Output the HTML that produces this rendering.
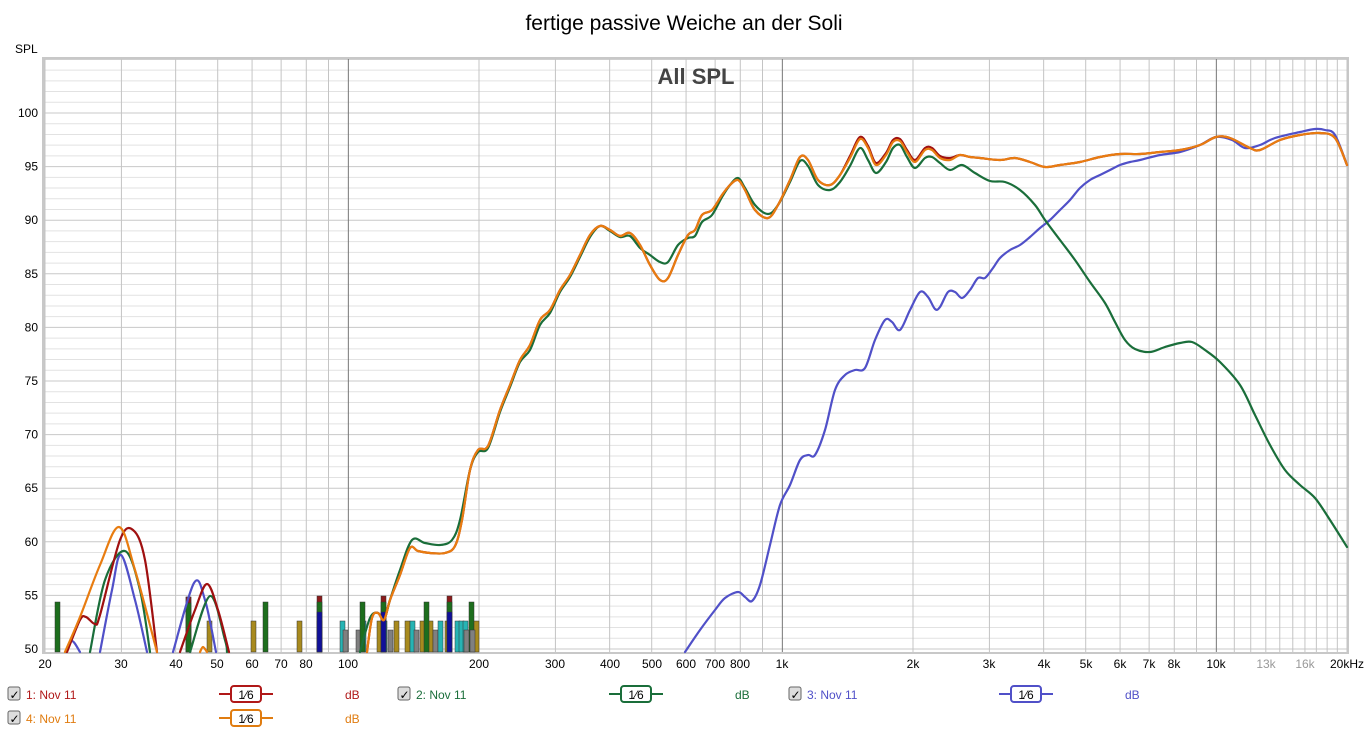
<!DOCTYPE html>
<html><head><meta charset="utf-8"><style>
body{margin:0;background:#fff;font-family:"Liberation Sans",Arial,sans-serif;}
#w{position:relative;width:1369px;height:734px;overflow:hidden;background:#fff}
.t{position:absolute;white-space:nowrap}
</style></head><body><div id="w">
<svg id="s" width="1369" height="734" style="position:absolute;left:0;top:0">
<rect x="42" y="57" width="1307" height="597" fill="#c8c8c8"/>
<rect x="45" y="59" width="1302" height="593" fill="#fff"/>
<g id="grid"></g>
<g id="bars"></g>
<g id="curves" fill="none" stroke-width="2.2" stroke-linejoin="round" stroke-linecap="round"></g>
<text x="684" y="30" font-size="21" text-anchor="middle" font-family="Liberation Sans, sans-serif">fertige passive Weiche an der Soli</text>
<text x="696" y="84" font-size="22" font-weight="bold" fill="#444" text-anchor="middle" font-family="Liberation Sans, sans-serif">All SPL</text>
<text x="15" y="53" font-size="12" font-family="Liberation Sans, sans-serif">SPL</text>
<g id="ylab" font-size="12" text-anchor="end" font-family="Liberation Sans, sans-serif"></g>
<g font-size="12" text-anchor="middle" font-family="Liberation Sans, sans-serif">
<text x="45" y="668">20</text><text x="121" y="668">30</text><text x="176" y="668">40</text><text x="217" y="668">50</text><text x="252" y="668">60</text><text x="281" y="668">70</text><text x="306" y="668">80</text><text x="348" y="668">100</text><text x="479" y="668">200</text><text x="555" y="668">300</text><text x="610" y="668">400</text><text x="652" y="668">500</text><text x="686" y="668">600</text><text x="715" y="668">700</text><text x="740" y="668">800</text><text x="782" y="668">1k</text><text x="913" y="668">2k</text><text x="989" y="668">3k</text><text x="1044" y="668">4k</text><text x="1086" y="668">5k</text><text x="1120" y="668">6k</text><text x="1149" y="668">7k</text><text x="1174" y="668">8k</text><text x="1216" y="668">10k</text><text x="1266" y="668" fill="#999">13k</text><text x="1305" y="668" fill="#999">16k</text><text x="1347" y="668">20kHz</text>
</g>
<g id="leg"></g>
</svg>
</div>
<script>
const NS="http://www.w3.org/2000/svg";
function el(p,n,a,txt){const e=document.createElementNS(NS,n);for(const k in a)e.setAttribute(k,a[k]);if(txt)e.textContent=txt;p.appendChild(e);return e;}
const X=f=>45+434*Math.log10(f/20), Y=d=>649-(d-50)*10.72;
const g=document.getElementById('grid');
for(let d=50;d<=105;d++){const y=Y(d);if(y<59)continue;el(g,'line',{x1:45,x2:1347,y1:y,y2:y,stroke:d%5?'#e2e2e2':'#c8c8c8','stroke-width':1});}
let fs=[];for(let f=20;f<100;f+=10)fs.push(f);for(let f=100;f<1000;f+=100)fs.push(f);for(let f=1000;f<=20000;f+=1000)fs.push(f);
fs.forEach(f=>{const x=X(f);const maj=(f==100||f==1000||f==10000);el(g,'line',{x1:x,x2:x,y1:59,y2:652,stroke:maj?'#777':'#c4c4c4','stroke-width':1});});
const yl=document.getElementById('ylab');
for(let d=50;d<=100;d+=5)el(yl,'text',{x:38,y:Y(d)+4},String(d));
// bars
const b=document.getElementById('bars');
const C={g:'#1d6e1d',o:'#a88a1e',c:'#26b4b4',y:'#808080',r:'#8b1a1a',b:'#10109a'};
function bar(x,top,col){el(b,'rect',{x:x,y:top,width:5,height:652-top,fill:col,stroke:'#333','stroke-width':0.5});}
[[55,602,'g'],[186,597,'g'],[207,621,'o'],[251,621,'o'],[263,602,'g'],[297,621,'o'],[317,621,'c'],[340,621,'c'],[343,630,'y'],[356,630,'y'],[361,621,'c'],[360,602,'g'],[377,621,'o'],[382,621,'c'],[388,630,'y'],[394,621,'o'],[405,621,'o'],[410,621,'c'],[414,630,'y'],[420,621,'o'],[428,621,'o'],[424,602,'g'],[433,630,'y'],[438,621,'c'],[445,621,'o'],[455,621,'c'],[459,621,'c'],[463,621,'c'],[469,602,'g'],[474,621,'o'],[464,630,'y'],[470,630,'y']].forEach(a=>bar(a[0],a[1],C[a[2]]));
// stacked tall bars
[[317,596],[381,596],[447,596]].forEach(a=>{bar(a[0],a[1],C.r);bar(a[0],602,C.g);bar(a[0],612,C.b);});
bar(186,597,C.r);bar(186,603,C.g);
// curves
function path(pts,col,w){let d='M'+pts[0][0]+' '+pts[0][1];for(let i=0;i<pts.length-1;i++){const p0=pts[i-1]||pts[i],p1=pts[i],p2=pts[i+1],p3=pts[i+2]||p2;
d+=' C'+(p1[0]+(p2[0]-p0[0])/6)+' '+(p1[1]+(p2[1]-p0[1])/6)+' '+(p2[0]-(p3[0]-p1[0])/6)+' '+(p2[1]-(p3[1]-p1[1])/6)+' '+p2[0]+' '+p2[1];}
el(document.getElementById('curves'),'path',{d:d,stroke:col,'stroke-width':w||2.2});}
const main=[[367,652],[372,618],[378,613],[384,620],[390,600],[400,575],[410,548],[418,551],[430,553],[445,553],[455,546],[462,520],[470,470],[478,450],[488,446],[500,410],[510,385],[520,360],[530,345],[540,320],[550,310],[560,290],[570,275],[580,255],[590,235],[600,226],[610,230],[620,236],[630,233],[640,245],[650,265],[660,280],[668,278],[678,255],[688,235],[695,230],[702,215],[712,210],[722,195],[730,185],[738,180],[745,190],[755,210],[768,218],[778,205],[790,180],[800,157],[808,160],[818,180],[830,185],[840,175],[850,158],[860,139],[868,148],[876,165],[886,155],[893,142],[900,141],[907,152],[915,162],[925,150],[932,150],[940,158],[950,160],[960,155],[970,157],[980,158],[1000,160],[1015,158],[1030,162],[1045,167],[1060,165],[1080,162],[1100,157],[1120,154],[1140,154],[1160,152],[1180,150],[1200,145],[1216,137],[1230,138],[1250,148],[1260,150],[1280,140],[1300,135],[1320,133],[1335,138],[1347,165]];
const red=main.map(p=>[p[0],p[1]-(p[0]>840&&p[0]<960?2:0)]);
const green=[[360,652],[370,618],[378,613],[384,620],[390,600],[400,570],[412,540],[425,543],[440,545],[452,540],[460,520],[470,470],[478,452],[488,448],[500,412],[510,387],[520,362],[530,350],[540,325],[550,313],[560,292],[570,277],[580,257],[590,237],[600,226],[610,231],[620,237],[630,236],[640,248],[650,255],[660,262],[668,262],[678,245],[688,238],[695,236],[702,222],[712,215],[722,197],[730,185],[738,178],[745,188],[755,205],[768,214],[778,205],[790,182],[800,161],[808,166],[818,185],[830,190],[840,182],[850,166],[860,148],[868,160],[876,173],[886,162],[893,148],[900,145],[907,157],[915,168],[925,158],[932,157],[940,163],[950,170],[962,165],[975,173],[990,181],[1005,182],[1020,190],[1035,205],[1045,220],[1060,240],[1075,260],[1090,282],[1105,303],[1115,322],[1125,340],[1135,349],[1150,352],[1165,347],[1180,343],[1192,342],[1205,350],[1220,362],[1240,385],[1255,415],[1270,445],[1285,470],[1300,485],[1315,498],[1330,520],[1347,547]];
const blue=[[685,652],[700,630],[715,610],[725,598],[738,592],[745,597],[752,601],[760,585],[770,545],[780,505],[790,485],[800,460],[808,455],[815,455],[825,430],[835,390],[845,375],[855,370],[865,368],[875,340],[885,320],[892,322],[900,330],[910,310],[920,292],[928,297],[935,309],[940,307],[948,292],[955,292],[962,298],[970,290],[978,278],[985,278],[993,268],[1000,258],[1010,250],[1020,245],[1030,237],[1040,228],[1050,220],[1060,210],[1070,200],[1080,188],[1090,180],[1100,175],[1110,170],[1120,165],[1130,162],[1140,160],[1160,155],[1180,152],[1200,145],[1216,137],[1232,140],[1245,148],[1260,145],[1275,138],[1300,132],[1315,129],[1325,130],[1335,135],[1347,165]];
path(blue,'#5050c8');path(green,'#1a6e3a');path(red,'#a01010');path(main,'#e87c10');
// low freq
path([[66,652],[72,641],[80,652]],'#5050c8');
path([[100,652],[112,590],[121,555],[135,600],[147,652]],'#5050c8');
path([[173,652],[194,583],[205,600],[216,652]],'#5050c8');
path([[90,652],[105,580],[125,551],[140,590],[150,652]],'#1a6e3a');
path([[190,652],[210,596],[225,640],[227,652]],'#1a6e3a');
path([[67,652],[80,620],[86,617],[95,624],[100,615],[120,540],[133,530],[145,560],[157,652]],'#a01010');
path([[180,652],[195,610],[207,584],[218,610],[229,652]],'#a01010');
path([[65,652],[80,617],[100,565],[119,527],[135,570],[157,652]],'#e87c10');
path([[200,652],[203,647],[207,652]],'#e87c10');
// legend
const L=document.getElementById('leg');
function leg(x,y,txt,col,lx,dx){
 el(L,'rect',{x:x,y:y-7,width:12,height:13,rx:2,fill:'#ddd',stroke:'#666'});
 el(L,'text',{x:x+1.5,y:y+5,'font-size':12,'font-family':'DejaVu Sans,sans-serif'},'✓');
 el(L,'text',{x:x+18,y:y+5,'font-size':12,fill:col,'font-family':'Liberation Sans,sans-serif'},txt);
 el(L,'line',{x1:lx,x2:lx+54,y1:y,y2:y,stroke:col,'stroke-width':2});
 el(L,'rect',{x:lx+12,y:y-8,width:30,height:16,rx:3,fill:'#fff',stroke:col,'stroke-width':2});
 el(L,'text',{x:lx+27,y:y+5,'font-size':12,'text-anchor':'middle','font-family':'Liberation Sans,sans-serif'},'1⁄6');
 el(L,'text',{x:dx,y:y+5,'font-size':12,fill:col,'font-family':'Liberation Sans,sans-serif'},'dB');
}
leg(8,694,'1: Nov 11','#b01818',219,345);
leg(398,694,'2: Nov 11','#1a6e3a',609,735);
leg(789,694,'3: Nov 11','#5050c8',999,1125);
leg(8,718,'4: Nov 11','#e07c10',219,345);
</script>
</body></html>
